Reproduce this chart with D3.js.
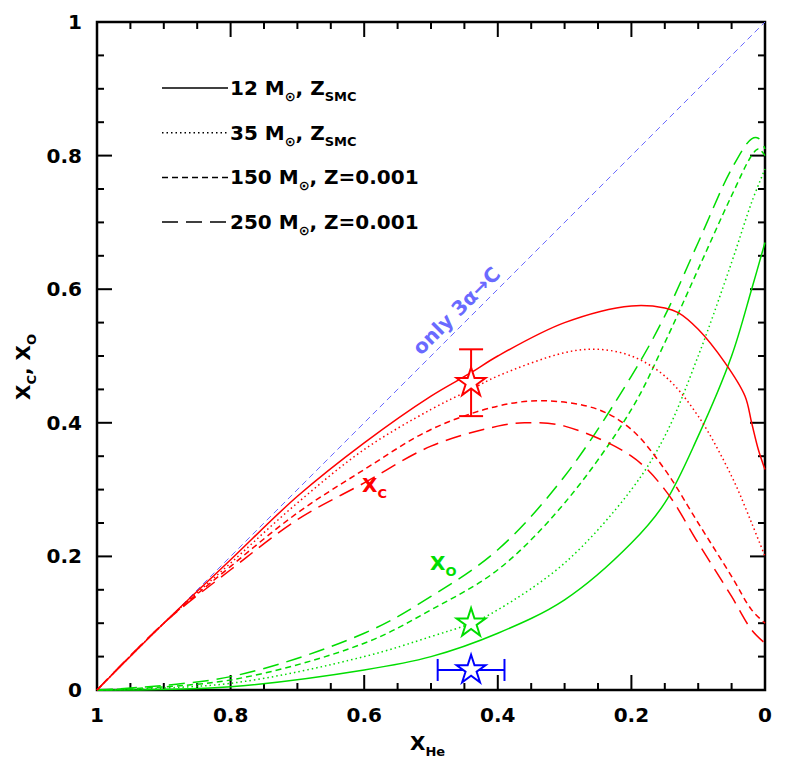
<!DOCTYPE html>
<html><head><meta charset="utf-8">
<script src="https://cdn.jsdelivr.net/npm/d3@7"></script>
<style>body{margin:0;background:#fff}text{font-family:"DejaVu Sans",sans-serif;font-weight:bold}</style>
</head><body><svg id="c" width="786" height="765"></svg>
<script>
// X_He values (shared grid is not used: each curve has its own points)
const xcSolid = [[1,0],[0.9,0.1],[0.8,0.195],[0.7,0.29],[0.6,0.37],[0.5,0.44],[0.44,0.475],[0.4,0.5],[0.3,0.55],[0.2,0.575],[0.15,0.572],[0.13,0.565],[0.1,0.54],[0.06,0.49],[0.03,0.44],[0.02,0.4],[0.01,0.36],[0,0.33]];
const xcDot = [[1,0],[0.9,0.1],[0.8,0.19],[0.7,0.28],[0.6,0.36],[0.5,0.42],[0.44,0.45],[0.4,0.47],[0.3,0.505],[0.25,0.51],[0.2,0.5],[0.15,0.47],[0.1,0.41],[0.05,0.32],[0.02,0.25],[0,0.2]];
const xcDash = [[1,0],[0.9,0.1],[0.8,0.185],[0.7,0.265],[0.6,0.33],[0.5,0.39],[0.4,0.425],[0.33,0.433],[0.25,0.42],[0.2,0.39],[0.15,0.33],[0.1,0.25],[0.05,0.17],[0.02,0.12],[0,0.1]];
const xcLong = [[1,0],[0.9,0.1],[0.8,0.18],[0.7,0.255],[0.6,0.31],[0.5,0.365],[0.4,0.395],[0.36,0.4],[0.3,0.395],[0.2,0.35],[0.15,0.3],[0.1,0.22],[0.05,0.14],[0.02,0.09],[0,0.07]];
const xoSolid = [[1,0],[0.8,0.005],[0.6,0.03],[0.5,0.05],[0.4,0.085],[0.3,0.135],[0.2,0.22],[0.15,0.28],[0.1,0.38],[0.05,0.5],[0.02,0.6],[0,0.67]];
const xoDot = [[1,0],[0.8,0.01],[0.6,0.05],[0.5,0.08],[0.44,0.1],[0.4,0.12],[0.3,0.19],[0.2,0.3],[0.15,0.38],[0.1,0.5],[0.05,0.64],[0.02,0.73],[0,0.78]];
const xoDash = [[1,0],[0.8,0.015],[0.6,0.07],[0.5,0.12],[0.4,0.18],[0.3,0.28],[0.2,0.42],[0.15,0.52],[0.1,0.63],[0.05,0.74],[0.02,0.8],[0.01,0.81],[0,0.8]];
const xoLong = [[1,0],[0.8,0.02],[0.6,0.085],[0.5,0.14],[0.4,0.21],[0.3,0.32],[0.2,0.47],[0.15,0.56],[0.1,0.67],[0.05,0.78],[0.02,0.825],[0.01,0.826],[0,0.81]];
const legendMass = ["12", "35", "150", "250"];
const legendZ = [["Z","SMC"],["Z","SMC"],["Z=0.001",""],["Z=0.001",""]];
const dashes = [null, "1.5,3", "6,4", "16,8"];
const obs = [{x:0.44,y:0.46,c:"red",ey:[0.41,0.51]},{x:0.44,y:0.10,c:"#00dd00"},{x:0.44,y:0.03,c:"blue",ex:[0.39,0.49]}];
const xTicks = [1,0.8,0.6,0.4,0.2,0], yTicks = [0,0.2,0.4,0.6,0.8,1];

const svg = d3.select("#c");
const x = d3.scaleLinear().domain([1,0]).range([97,765]);
const y = d3.scaleLinear().domain([0,1]).range([690,22]);
const minor = d3.range(0,1.0001,0.05);

// ticks on all four sides, pointing inward
const ax = svg.append("g").attr("stroke","#000").attr("stroke-width",2);
minor.forEach(v=>{
  const big = Math.abs(v*5-Math.round(v*5))<1e-6, L = big?15:7;
  ax.append("line").attr("x1",x(v)).attr("x2",x(v)).attr("y1",690).attr("y2",690-L);
  ax.append("line").attr("x1",x(v)).attr("x2",x(v)).attr("y1",22).attr("y2",22+L);
  ax.append("line").attr("y1",y(v)).attr("y2",y(v)).attr("x1",97).attr("x2",97+L);
  ax.append("line").attr("y1",y(v)).attr("y2",y(v)).attr("x1",765).attr("x2",765-L);
});
svg.append("rect").attr("x",97).attr("y",22).attr("width",668).attr("height",668)
  .attr("fill","none").attr("stroke","#000").attr("stroke-width",2.5);

xTicks.forEach(v=>svg.append("text").attr("x",x(v)).attr("y",722).attr("text-anchor","middle").attr("font-size",20).text(v));
yTicks.forEach(v=>svg.append("text").attr("x",82).attr("y",y(v)+7).attr("text-anchor","end").attr("font-size",20).text(v));

const xl = svg.append("text").attr("x",410).attr("y",750).attr("font-size",20);
xl.append("tspan").text("X");
xl.append("tspan").attr("font-size",13).attr("dy",6).text("He");
const yl = svg.append("text").attr("transform","translate(30,400) rotate(-90)").attr("font-size",20);
yl.append("tspan").text("X");
yl.append("tspan").attr("font-size",13).attr("dy",6).text("C");
yl.append("tspan").attr("dy",-6).text(", X");
yl.append("tspan").attr("font-size",13).attr("dy",6).text("O");

// diagonal: pure 3-alpha
svg.append("line").attr("x1",x(1)).attr("y1",y(0)).attr("x2",x(0)).attr("y2",y(1))
  .attr("stroke","#6a6aff").attr("stroke-width",1).attr("stroke-dasharray","6,4");
svg.append("text").attr("transform",`translate(${x(0.515)},${y(0.5)}) rotate(-45)`)
  .attr("fill","#6a6aff").attr("font-size",20).attr("font-weight","normal")
  .attr("font-family","DejaVu Serif").text("only 3α→C");

const line = d3.line().x(d=>x(d[0])).y(d=>y(d[1])).curve(d3.curveCatmullRom.alpha(0.5));
const draw = (data,col,i)=>svg.append("path").datum(data).attr("d",line).attr("fill","none")
  .attr("stroke",col).attr("stroke-width",1.5).attr("stroke-dasharray",dashes[i]);
[xoSolid,xoDot,xoDash,xoLong].forEach((d,i)=>draw(d,"#00dd00",i));
[xcSolid,xcDot,xcDash,xcLong].forEach((d,i)=>draw(d,"red",i));

const lab = (t,s,px,py,col)=>{const e=svg.append("text").attr("x",px).attr("y",py).attr("fill",col).attr("font-size",20);
  e.append("tspan").text(t); e.append("tspan").attr("font-size",13).attr("dy",6).text(s);};
lab("X","C",362,492,"red");
lab("X","O",430,570,"#00dd00");

// observations
const star = d3.symbol().type(d3.symbolStar).size(260);
obs.forEach(o=>{
  const g = svg.append("g").attr("stroke",o.c).attr("stroke-width",2).attr("fill","none");
  if(o.ey){g.append("line").attr("x1",x(o.x)).attr("x2",x(o.x)).attr("y1",y(o.ey[0])).attr("y2",y(o.ey[1]));
    o.ey.forEach(v=>g.append("line").attr("x1",x(o.x)-12).attr("x2",x(o.x)+12).attr("y1",y(v)).attr("y2",y(v)));}
  if(o.ex){g.append("line").attr("y1",y(o.y)).attr("y2",y(o.y)).attr("x1",x(o.ex[0])).attr("x2",x(o.ex[1]));
    o.ex.forEach(v=>g.append("line").attr("y1",y(o.y)-11).attr("y2",y(o.y)+11).attr("x1",x(v)).attr("x2",x(v)));}
  g.append("path").attr("d",star).attr("fill","#fff").attr("transform",`translate(${x(o.x)},${y(o.y)})`);
});

// legend
legendMass.forEach((m,i)=>{
  const py = 88+i*44.7;
  svg.append("line").attr("x1",162).attr("x2",228).attr("y1",py).attr("y2",py)
    .attr("stroke","#000").attr("stroke-width",1.5).attr("stroke-dasharray",dashes[i]);
  const t = svg.append("text").attr("x",230).attr("y",py+7).attr("font-size",20);
  t.append("tspan").text(m+" M");
  t.append("tspan").attr("font-size",13).attr("dy",6).text("⊙");
  t.append("tspan").attr("dy",-6).text(", "+legendZ[i][0]);
  if(legendZ[i][1]) t.append("tspan").attr("font-size",13).attr("dy",6).text(legendZ[i][1]);
});
</script></body></html>
